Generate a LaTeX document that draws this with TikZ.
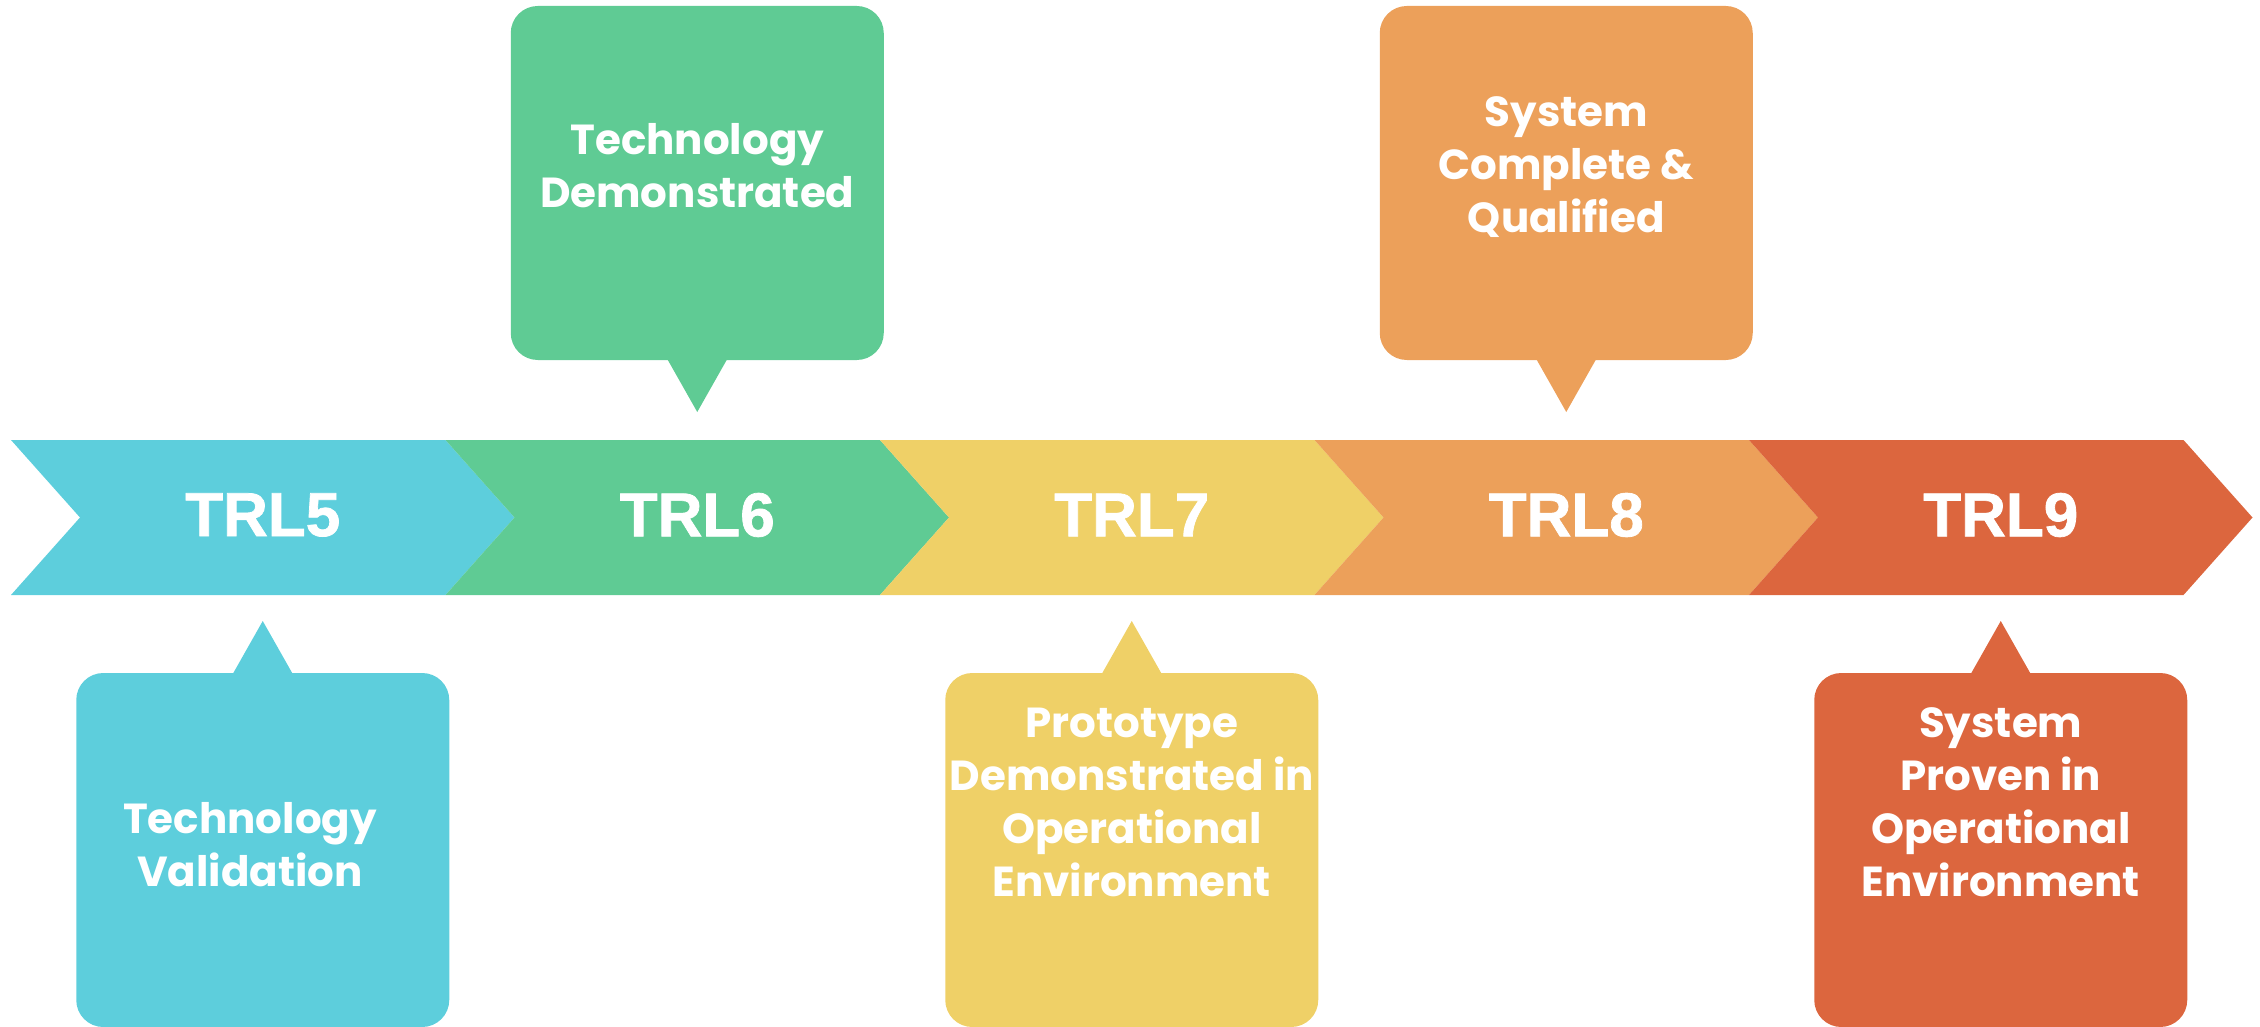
\documentclass[tikz,border=0pt]{standalone}
\usepackage{fontspec}
\newfontfamily\cardfont{Poppins}
\newfontfamily\trlfont{Liberation Sans Bold}[FakeBold=1.2]
\definecolor{trlblue}{HTML}{5DCEDC}
\definecolor{trlgreen}{HTML}{5FCB94}
\definecolor{trlyellow}{HTML}{EFD067}
\definecolor{trlorange}{HTML}{ECA05A}
\definecolor{trlred}{HTML}{DC663E}

\begin{document}
\begin{tikzpicture}[x=0.5pt, y=-0.5pt, trl/.style={font=\trlfont\fontsize{31}{36}\selectfont, text=white, inner sep=0pt}, card/.style={rounded corners=13.5pt, minimum width=186.5pt, minimum height=177pt, inner sep=0pt}, cardtext/.style={font=\cardfont\bfseries\fontsize{21}{26.5}\selectfont, text=white, align=center, inner sep=0pt}]
\useasboundingbox (0,0) rectangle (2260,1027);
% arrow band
\fill[trlblue] (11,440) -- (445.5,440) -- (514.5,517.5) -- (445.5,595) -- (11,595) -- (80,517.5) -- cycle;
\fill[trlgreen] (445.5,440) -- (880,440) -- (949,517.5) -- (880,595) -- (445.5,595) -- (514.5,517.5) -- cycle;
\fill[trlyellow] (880,440) -- (1314.5,440) -- (1383.5,517.5) -- (1314.5,595) -- (880,595) -- (949,517.5) -- cycle;
\fill[trlorange] (1314.5,440) -- (1749,440) -- (1818,517.5) -- (1749,595) -- (1314.5,595) -- (1383.5,517.5) -- cycle;
\fill[trlred] (1749,440) -- (2183.5,440) -- (2252.5,517.5) -- (2183.5,595) -- (1749,595) -- (1818,517.5) -- cycle;
\node[trl] (trl5) at (262.75,515) {TRL5};
\node[trl] (trl6) at (697.25,515) {TRL6};
\node[trl] (trl7) at (1131.75,515) {TRL7};
\node[trl] (trl8) at (1566.25,515) {TRL8};
\node[trl] (trl9) at (2000.75,515) {TRL9};
% cards above
\node[card, fill=trlgreen] (c6) at (697.25,183) {};
\node[card, fill=trlorange] (c8) at (1566.25,183) {};
\coordinate (p6) at (697.25,412);
\coordinate (p8) at (1566.25,412);
\fill[trlgreen] (p6) -- ++(-30,-53) -- ++(60,0) -- cycle;
\fill[trlorange] (p8) -- ++(-30,-53) -- ++(60,0) -- cycle;
\node[cardtext] (t6) at (697.25,166) {Technology\\Demonstrated};
\node[cardtext] (t8) at (1566.25,167) {System\\Complete \&\\Qualified};
% cards below
\node[card, fill=trlblue] (c5) at (262.75,850) {};
\node[card, fill=trlyellow] (c7) at (1131.75,850) {};
\node[card, fill=trlred] (c9) at (2000.75,850) {};
\coordinate (p5) at (262.75,621);
\coordinate (p7) at (1131.75,621);
\coordinate (p9) at (2000.75,621);
\fill[trlblue] (p5) -- ++(-30,53) -- ++(60,0) -- cycle;
\fill[trlyellow] (p7) -- ++(-30,53) -- ++(60,0) -- cycle;
\fill[trlred] (p9) -- ++(-30,53) -- ++(60,0) -- cycle;
\node[cardtext] (t5) at (250,845) {Technology\\Validation};
\node[cardtext] (t7) at (1131.75,802) {Prototype\\Demonstrated in\\Operational\\Environment};
\node[cardtext] (t9) at (2000.75,802) {System\\Proven in\\Operational\\Environment};
\end{tikzpicture}
\end{document}
